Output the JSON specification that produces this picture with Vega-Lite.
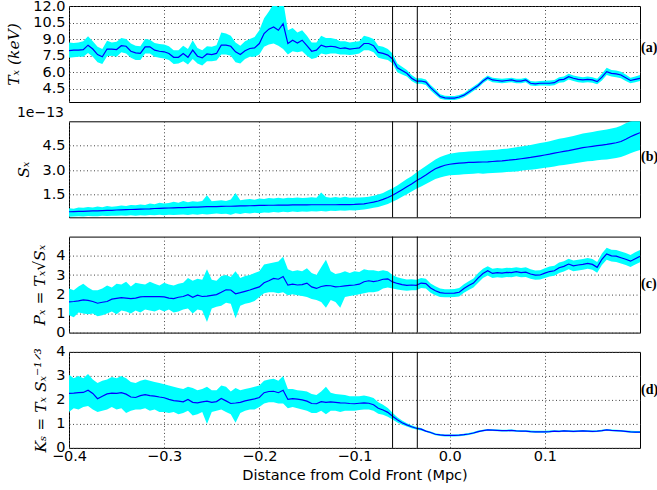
{
"$schema":"https://vega.github.io/schema/vega-lite/v6.json",
"padding":{"left":6,"top":-3,"right":0,"bottom":0},
"bounds":"flush",
"spacing":19.3,
"config":{
"view":{"stroke":"#000","strokeWidth":1},
"axis":{"domain":false,"ticks":false,"grid":true,"gridColor":"#444","gridDash":[1,2.5],"gridWidth":1,"labelFont":"DejaVu Sans","labelFontSize":14.5,"labelColor":"#000","labelPadding":4,"labelFlush":false,"labelOverlap":false,"labelBound":false,"tickCount":12,"titleFont":"DejaVu Serif","titleFontStyle":"italic","titleFontWeight":"normal","titleFontSize":15.5,"titleColor":"#000"},
"title":{"font":"DejaVu Sans","fontSize":14,"fontWeight":"normal","anchor":"start","offset":1,"color":"#000"}
},
"datasets":{"d":[
{"x":-0.4,"t":7.95,"tl":7.3,"th":8.7,"s":0.44,"sl":0.14,"sh":0.65,"p":1.6,"pl":0.9,"ph":2.3,"k":2.27,"kl":1.5,"kh":3.05},
{"x":-0.395,"t":8.0,"tl":7.35,"th":8.65,"s":0.45,"sl":0.15,"sh":0.62,"p":1.62,"pl":0.8,"ph":2.2,"k":2.28,"kl":1.65,"kh":2.9},
{"x":-0.39,"t":8.0,"tl":7.4,"th":8.7,"s":0.46,"sl":0.16,"sh":0.7,"p":1.65,"pl":1.05,"ph":2.4,"k":2.3,"kl":1.6,"kh":3.0},
{"x":-0.385,"t":8.05,"tl":7.4,"th":8.8,"s":0.47,"sl":0.15,"sh":0.68,"p":1.7,"pl":1.0,"ph":2.55,"k":2.31,"kl":1.7,"kh":2.9},
{"x":-0.38,"t":8.45,"tl":7.75,"th":9.25,"s":0.48,"sl":0.18,"sh":0.74,"p":1.68,"pl":0.95,"ph":2.35,"k":2.4,"kl":1.75,"kh":3.08},
{"x":-0.375,"t":8.1,"tl":7.4,"th":8.8,"s":0.49,"sl":0.16,"sh":0.7,"p":1.62,"pl":1.0,"ph":2.2,"k":2.27,"kl":1.6,"kh":2.85},
{"x":-0.37,"t":7.6,"tl":6.9,"th":8.3,"s":0.5,"sl":0.17,"sh":0.76,"p":1.53,"pl":0.85,"ph":2.2,"k":2.05,"kl":1.5,"kh":2.7},
{"x":-0.365,"t":7.4,"tl":6.75,"th":8.1,"s":0.51,"sl":0.2,"sh":0.72,"p":1.58,"pl":0.9,"ph":2.3,"k":2.15,"kl":1.55,"kh":2.8},
{"x":-0.36,"t":8.1,"tl":7.45,"th":8.85,"s":0.52,"sl":0.18,"sh":0.8,"p":1.62,"pl":1.0,"ph":2.45,"k":2.25,"kl":1.6,"kh":2.85},
{"x":-0.355,"t":8.1,"tl":7.5,"th":8.7,"s":0.53,"sl":0.2,"sh":0.75,"p":1.74,"pl":1.1,"ph":2.35,"k":2.28,"kl":1.7,"kh":2.95},
{"x":-0.35,"t":8.05,"tl":7.4,"th":8.75,"s":0.55,"sl":0.2,"sh":0.78,"p":1.78,"pl":0.95,"ph":2.55,"k":2.27,"kl":1.6,"kh":2.9},
{"x":-0.345,"t":8.4,"tl":7.8,"th":9.1,"s":0.56,"sl":0.21,"sh":0.82,"p":1.82,"pl":1.15,"ph":2.5,"k":2.3,"kl":1.65,"kh":3.0},
{"x":-0.34,"t":8.35,"tl":7.7,"th":9.0,"s":0.57,"sl":0.19,"sh":0.8,"p":1.8,"pl":1.1,"ph":2.65,"k":2.24,"kl":1.45,"kh":2.9},
{"x":-0.335,"t":7.9,"tl":7.3,"th":8.6,"s":0.58,"sl":0.22,"sh":0.85,"p":1.77,"pl":1.0,"ph":2.4,"k":2.12,"kl":1.55,"kh":2.75},
{"x":-0.33,"t":7.75,"tl":7.1,"th":8.4,"s":0.59,"sl":0.2,"sh":0.84,"p":1.8,"pl":1.15,"ph":2.6,"k":2.1,"kl":1.6,"kh":2.7},
{"x":-0.325,"t":7.7,"tl":7.1,"th":8.35,"s":0.6,"sl":0.23,"sh":0.88,"p":1.86,"pl":1.05,"ph":2.55,"k":2.18,"kl":1.6,"kh":2.8},
{"x":-0.32,"t":8.3,"tl":7.7,"th":9.0,"s":0.61,"sl":0.21,"sh":0.86,"p":1.88,"pl":1.2,"ph":2.5,"k":2.22,"kl":1.65,"kh":2.85},
{"x":-0.315,"t":8.3,"tl":7.7,"th":8.95,"s":0.62,"sl":0.24,"sh":0.95,"p":1.87,"pl":1.15,"ph":2.65,"k":2.18,"kl":1.55,"kh":2.8},
{"x":-0.31,"t":8.0,"tl":7.4,"th":8.65,"s":0.64,"sl":0.22,"sh":0.9,"p":1.88,"pl":1.1,"ph":2.55,"k":2.16,"kl":1.6,"kh":2.75},
{"x":-0.305,"t":7.9,"tl":7.3,"th":8.55,"s":0.65,"sl":0.25,"sh":1.0,"p":1.87,"pl":1.2,"ph":2.45,"k":2.12,"kl":1.5,"kh":2.7},
{"x":-0.3,"t":7.85,"tl":7.25,"th":8.5,"s":0.66,"sl":0.22,"sh":0.95,"p":1.86,"pl":1.1,"ph":2.6,"k":2.09,"kl":1.5,"kh":2.65},
{"x":-0.295,"t":7.7,"tl":7.1,"th":8.35,"s":0.67,"sl":0.26,"sh":0.98,"p":1.8,"pl":1.2,"ph":2.5,"k":2.02,"kl":1.45,"kh":2.6},
{"x":-0.29,"t":7.35,"tl":6.75,"th":8.0,"s":0.68,"sl":0.24,"sh":1.05,"p":1.77,"pl":1.05,"ph":2.45,"k":1.97,"kl":1.5,"kh":2.55},
{"x":-0.285,"t":7.35,"tl":6.8,"th":8.0,"s":0.69,"sl":0.25,"sh":1.0,"p":1.84,"pl":1.1,"ph":2.55,"k":1.95,"kl":1.4,"kh":2.5},
{"x":-0.28,"t":7.7,"tl":7.0,"th":8.4,"s":0.7,"sl":0.27,"sh":1.1,"p":1.88,"pl":1.2,"ph":2.6,"k":1.92,"kl":1.45,"kh":2.45},
{"x":-0.275,"t":7.35,"tl":6.7,"th":8.1,"s":0.71,"sl":0.24,"sh":1.02,"p":1.97,"pl":1.25,"ph":2.85,"k":2.02,"kl":1.55,"kh":2.55},
{"x":-0.27,"t":8.0,"tl":7.2,"th":8.9,"s":0.72,"sl":0.28,"sh":1.08,"p":1.84,"pl":1.0,"ph":2.7,"k":1.9,"kl":1.35,"kh":2.5},
{"x":-0.265,"t":7.45,"tl":6.8,"th":8.2,"s":0.73,"sl":0.25,"sh":1.05,"p":1.95,"pl":1.2,"ph":2.8,"k":1.88,"kl":1.4,"kh":2.4},
{"x":-0.26,"t":7.3,"tl":6.6,"th":8.0,"s":0.74,"sl":0.3,"sh":1.1,"p":1.88,"pl":1.15,"ph":2.75,"k":1.92,"kl":1.5,"kh":2.45},
{"x":-0.255,"t":7.65,"tl":7.0,"th":8.35,"s":0.75,"sl":0.27,"sh":1.45,"p":1.9,"pl":0.55,"ph":3.3,"k":1.95,"kl":1.0,"kh":2.55},
{"x":-0.25,"t":7.6,"tl":7.0,"th":8.3,"s":0.75,"sl":0.3,"sh":1.08,"p":1.94,"pl":1.25,"ph":2.75,"k":1.9,"kl":1.5,"kh":2.4},
{"x":-0.245,"t":7.7,"tl":7.05,"th":8.45,"s":0.76,"sl":0.33,"sh":1.12,"p":1.98,"pl":1.35,"ph":2.7,"k":1.93,"kl":1.55,"kh":2.4},
{"x":-0.24,"t":8.45,"tl":7.6,"th":9.6,"s":0.77,"sl":0.3,"sh":1.15,"p":2.1,"pl":1.4,"ph":2.95,"k":2.06,"kl":1.6,"kh":2.6},
{"x":-0.235,"t":8.45,"tl":7.6,"th":9.5,"s":0.78,"sl":0.32,"sh":1.1,"p":2.23,"pl":1.55,"ph":3.0,"k":1.96,"kl":1.5,"kh":2.55},
{"x":-0.23,"t":8.35,"tl":7.5,"th":9.3,"s":0.78,"sl":0.26,"sh":1.2,"p":2.22,"pl":1.5,"ph":2.9,"k":1.85,"kl":1.4,"kh":2.35},
{"x":-0.225,"t":7.85,"tl":6.9,"th":8.7,"s":0.79,"sl":0.35,"sh":1.6,"p":2.02,"pl":0.75,"ph":3.2,"k":1.87,"kl":1.05,"kh":2.5},
{"x":-0.22,"t":7.6,"tl":6.8,"th":8.4,"s":0.8,"sl":0.3,"sh":1.15,"p":2.08,"pl":1.4,"ph":2.85,"k":1.9,"kl":1.45,"kh":2.4},
{"x":-0.215,"t":7.95,"tl":7.2,"th":8.8,"s":0.8,"sl":0.36,"sh":1.2,"p":2.15,"pl":1.5,"ph":2.95,"k":1.96,"kl":1.55,"kh":2.45},
{"x":-0.21,"t":8.15,"tl":7.4,"th":9.0,"s":0.81,"sl":0.33,"sh":1.22,"p":2.22,"pl":1.55,"ph":3.0,"k":2.0,"kl":1.6,"kh":2.5},
{"x":-0.205,"t":8.2,"tl":7.4,"th":9.2,"s":0.82,"sl":0.38,"sh":1.18,"p":2.3,"pl":1.65,"ph":3.1,"k":2.04,"kl":1.6,"kh":2.55},
{"x":-0.2,"t":8.6,"tl":7.6,"th":9.8,"s":0.83,"sl":0.35,"sh":1.25,"p":2.38,"pl":1.85,"ph":3.2,"k":2.1,"kl":1.7,"kh":2.6},
{"x":-0.195,"t":9.5,"tl":8.3,"th":10.9,"s":0.83,"sl":0.4,"sh":1.22,"p":2.6,"pl":2.05,"ph":3.55,"k":2.3,"kl":1.85,"kh":2.8},
{"x":-0.19,"t":9.9,"tl":8.5,"th":11.5,"s":0.84,"sl":0.38,"sh":1.28,"p":2.7,"pl":2.1,"ph":3.6,"k":2.35,"kl":1.9,"kh":2.85},
{"x":-0.185,"t":10.1,"tl":8.6,"th":12.2,"s":0.84,"sl":0.42,"sh":1.25,"p":2.82,"pl":2.1,"ph":3.65,"k":2.36,"kl":1.9,"kh":2.88},
{"x":-0.18,"t":9.8,"tl":8.4,"th":11.9,"s":0.85,"sl":0.4,"sh":1.3,"p":2.78,"pl":2.05,"ph":3.7,"k":2.3,"kl":1.85,"kh":2.8},
{"x":-0.175,"t":10.4,"tl":8.1,"th":12.5,"s":0.85,"sl":0.44,"sh":1.26,"p":2.92,"pl":2.1,"ph":3.95,"k":2.4,"kl":1.85,"kh":3.0},
{"x":-0.17,"t":8.6,"tl":7.6,"th":9.8,"s":0.85,"sl":0.41,"sh":1.3,"p":2.47,"pl":1.95,"ph":3.3,"k":2.02,"kl":1.65,"kh":2.45},
{"x":-0.165,"t":8.9,"tl":7.9,"th":10.0,"s":0.86,"sl":0.45,"sh":1.28,"p":2.52,"pl":2.0,"ph":3.2,"k":2.05,"kl":1.7,"kh":2.45},
{"x":-0.16,"t":8.65,"tl":7.8,"th":9.6,"s":0.86,"sl":0.42,"sh":1.32,"p":2.48,"pl":1.95,"ph":3.25,"k":2.03,"kl":1.65,"kh":2.4},
{"x":-0.155,"t":8.9,"tl":7.9,"th":9.8,"s":0.86,"sl":0.46,"sh":1.29,"p":2.5,"pl":1.9,"ph":3.2,"k":2.0,"kl":1.6,"kh":2.38},
{"x":-0.15,"t":8.4,"tl":7.5,"th":9.3,"s":0.86,"sl":0.44,"sh":1.3,"p":2.58,"pl":1.85,"ph":3.35,"k":1.95,"kl":1.55,"kh":2.35},
{"x":-0.145,"t":7.9,"tl":7.2,"th":8.7,"s":0.87,"sl":0.47,"sh":1.33,"p":2.38,"pl":1.75,"ph":3.1,"k":1.85,"kl":1.45,"kh":2.25},
{"x":-0.14,"t":8.0,"tl":7.3,"th":8.7,"s":0.87,"sl":0.45,"sh":1.3,"p":2.3,"pl":1.7,"ph":3.0,"k":1.84,"kl":1.45,"kh":2.2},
{"x":-0.135,"t":8.45,"tl":7.7,"th":9.3,"s":0.87,"sl":0.48,"sh":1.62,"p":2.4,"pl":1.6,"ph":3.4,"k":1.93,"kl":1.55,"kh":2.35},
{"x":-0.13,"t":8.3,"tl":7.6,"th":9.1,"s":0.87,"sl":0.46,"sh":1.34,"p":2.45,"pl":1.3,"ph":3.8,"k":1.9,"kl":1.4,"kh":2.55},
{"x":-0.125,"t":8.35,"tl":7.7,"th":9.1,"s":0.87,"sl":0.5,"sh":1.3,"p":2.44,"pl":1.7,"ph":3.2,"k":1.92,"kl":1.55,"kh":2.3},
{"x":-0.12,"t":8.3,"tl":7.7,"th":9.0,"s":0.87,"sl":0.48,"sh":1.35,"p":2.38,"pl":1.6,"ph":3.05,"k":1.9,"kl":1.55,"kh":2.25},
{"x":-0.115,"t":8.15,"tl":7.6,"th":8.8,"s":0.88,"sl":0.52,"sh":1.3,"p":2.4,"pl":1.3,"ph":3.1,"k":1.88,"kl":1.5,"kh":2.22},
{"x":-0.11,"t":8.2,"tl":7.6,"th":8.8,"s":0.88,"sl":0.5,"sh":1.36,"p":2.43,"pl":1.85,"ph":3.2,"k":1.87,"kl":1.55,"kh":2.2},
{"x":-0.105,"t":8.1,"tl":7.55,"th":8.7,"s":0.88,"sl":0.53,"sh":1.3,"p":2.46,"pl":1.9,"ph":3.1,"k":1.85,"kl":1.55,"kh":2.15},
{"x":-0.1,"t":8.15,"tl":7.6,"th":8.75,"s":0.89,"sl":0.52,"sh":1.32,"p":2.48,"pl":1.95,"ph":3.2,"k":1.84,"kl":1.55,"kh":2.15},
{"x":-0.095,"t":8.2,"tl":7.7,"th":8.8,"s":0.91,"sl":0.55,"sh":1.32,"p":2.52,"pl":2.0,"ph":3.15,"k":1.86,"kl":1.58,"kh":2.15},
{"x":-0.09,"t":8.6,"tl":8.0,"th":9.3,"s":0.93,"sl":0.58,"sh":1.33,"p":2.65,"pl":2.05,"ph":3.3,"k":1.88,"kl":1.6,"kh":2.18},
{"x":-0.085,"t":8.6,"tl":8.0,"th":9.2,"s":0.98,"sl":0.62,"sh":1.36,"p":2.7,"pl":2.1,"ph":3.25,"k":1.86,"kl":1.6,"kh":2.14},
{"x":-0.08,"t":8.4,"tl":7.8,"th":9.0,"s":1.03,"sl":0.68,"sh":1.42,"p":2.66,"pl":2.1,"ph":3.25,"k":1.8,"kl":1.55,"kh":2.08},
{"x":-0.075,"t":7.8,"tl":7.3,"th":8.4,"s":1.1,"sl":0.73,"sh":1.5,"p":2.7,"pl":2.15,"ph":3.2,"k":1.65,"kl":1.42,"kh":1.9},
{"x":-0.07,"t":7.7,"tl":7.2,"th":8.3,"s":1.2,"sl":0.82,"sh":1.6,"p":2.78,"pl":2.3,"ph":3.25,"k":1.58,"kl":1.38,"kh":1.8},
{"x":-0.065,"t":7.55,"tl":7.1,"th":8.1,"s":1.32,"sl":0.92,"sh":1.75,"p":2.8,"pl":2.35,"ph":3.2,"k":1.48,"kl":1.3,"kh":1.66},
{"x":-0.06,"t":7.2,"tl":6.8,"th":7.7,"s":1.45,"sl":1.05,"sh":1.88,"p":2.64,"pl":2.3,"ph":3.0,"k":1.32,"kl":1.18,"kh":1.46},
{"x":-0.055,"t":6.4,"tl":6.0,"th":6.8,"s":1.62,"sl":1.2,"sh":2.05,"p":2.56,"pl":2.25,"ph":2.88,"k":1.17,"kl":1.06,"kh":1.28},
{"x":-0.05,"t":6.15,"tl":5.8,"th":6.5,"s":1.8,"sl":1.36,"sh":2.25,"p":2.5,"pl":2.2,"ph":2.82,"k":1.05,"kl":0.96,"kh":1.14},
{"x":-0.045,"t":5.9,"tl":5.6,"th":6.2,"s":1.98,"sl":1.52,"sh":2.45,"p":2.46,"pl":2.18,"ph":2.76,"k":0.96,"kl":0.89,"kh":1.03},
{"x":-0.04,"t":5.45,"tl":5.2,"th":5.75,"s":2.15,"sl":1.68,"sh":2.62,"p":2.48,"pl":2.2,"ph":2.78,"k":0.88,"kl":0.82,"kh":0.94},
{"x":-0.035,"t":5.2,"tl":4.95,"th":5.45,"s":2.35,"sl":1.85,"sh":2.85,"p":2.46,"pl":2.2,"ph":2.75,"k":0.82,"kl":0.77,"kh":0.87},
{"x":-0.03,"t":5.2,"tl":4.95,"th":5.45,"s":2.52,"sl":2.0,"sh":3.05,"p":2.58,"pl":2.32,"ph":2.85,"k":0.78,"kl":0.73,"kh":0.83},
{"x":-0.025,"t":5.1,"tl":4.85,"th":5.35,"s":2.7,"sl":2.15,"sh":3.25,"p":2.55,"pl":2.3,"ph":2.8,"k":0.7,"kl":0.66,"kh":0.74},
{"x":-0.02,"t":4.6,"tl":4.35,"th":4.85,"s":2.9,"sl":2.3,"sh":3.45,"p":2.32,"pl":2.08,"ph":2.56,"k":0.64,"kl":0.6,"kh":0.68},
{"x":-0.015,"t":4.2,"tl":3.95,"th":4.45,"s":3.08,"sl":2.45,"sh":3.65,"p":2.18,"pl":1.95,"ph":2.42,"k":0.57,"kl":0.53,"kh":0.61},
{"x":-0.01,"t":3.8,"tl":3.6,"th":4.0,"s":3.2,"sl":2.55,"sh":3.8,"p":2.08,"pl":1.86,"ph":2.3,"k":0.54,"kl":0.5,"kh":0.58},
{"x":-0.005,"t":3.68,"tl":3.5,"th":3.86,"s":3.3,"sl":2.62,"sh":3.92,"p":2.05,"pl":1.84,"ph":2.26,"k":0.52,"kl":0.48,"kh":0.56},
{"x":0.0,"t":3.66,"tl":3.48,"th":3.84,"s":3.36,"sl":2.68,"sh":4.0,"p":2.05,"pl":1.84,"ph":2.26,"k":0.52,"kl":0.48,"kh":0.56},
{"x":0.005,"t":3.66,"tl":3.48,"th":3.84,"s":3.4,"sl":2.7,"sh":4.05,"p":2.06,"pl":1.85,"ph":2.27,"k":0.52,"kl":0.48,"kh":0.56},
{"x":0.01,"t":3.75,"tl":3.57,"th":3.93,"s":3.43,"sl":2.72,"sh":4.1,"p":2.1,"pl":1.88,"ph":2.32,"k":0.53,"kl":0.49,"kh":0.57},
{"x":0.015,"t":3.92,"tl":3.74,"th":4.1,"s":3.45,"sl":2.75,"sh":4.12,"p":2.3,"pl":2.08,"ph":2.52,"k":0.55,"kl":0.51,"kh":0.59},
{"x":0.02,"t":4.2,"tl":4.0,"th":4.4,"s":3.47,"sl":2.76,"sh":4.15,"p":2.45,"pl":2.22,"ph":2.68,"k":0.58,"kl":0.54,"kh":0.62},
{"x":0.025,"t":4.5,"tl":4.3,"th":4.7,"s":3.48,"sl":2.78,"sh":4.16,"p":2.58,"pl":2.35,"ph":2.82,"k":0.62,"kl":0.58,"kh":0.66},
{"x":0.03,"t":4.8,"tl":4.6,"th":5.0,"s":3.49,"sl":2.8,"sh":4.18,"p":2.85,"pl":2.6,"ph":3.1,"k":0.68,"kl":0.64,"kh":0.72},
{"x":0.035,"t":5.2,"tl":5.0,"th":5.4,"s":3.5,"sl":2.78,"sh":4.2,"p":3.08,"pl":2.84,"ph":3.32,"k":0.72,"kl":0.68,"kh":0.76},
{"x":0.04,"t":5.5,"tl":5.3,"th":5.7,"s":3.51,"sl":2.8,"sh":4.22,"p":3.22,"pl":2.98,"ph":3.46,"k":0.75,"kl":0.71,"kh":0.79},
{"x":0.045,"t":5.3,"tl":5.1,"th":5.5,"s":3.53,"sl":2.82,"sh":4.24,"p":3.08,"pl":2.84,"ph":3.32,"k":0.74,"kl":0.7,"kh":0.78},
{"x":0.05,"t":5.25,"tl":5.05,"th":5.45,"s":3.55,"sl":2.84,"sh":4.25,"p":3.12,"pl":2.88,"ph":3.36,"k":0.73,"kl":0.69,"kh":0.77},
{"x":0.055,"t":5.2,"tl":5.0,"th":5.4,"s":3.57,"sl":2.86,"sh":4.3,"p":3.1,"pl":2.86,"ph":3.34,"k":0.72,"kl":0.68,"kh":0.76},
{"x":0.06,"t":5.25,"tl":5.05,"th":5.45,"s":3.6,"sl":2.88,"sh":4.32,"p":3.14,"pl":2.9,"ph":3.38,"k":0.72,"kl":0.68,"kh":0.76},
{"x":0.065,"t":5.3,"tl":5.1,"th":5.5,"s":3.63,"sl":2.9,"sh":4.36,"p":3.12,"pl":2.88,"ph":3.36,"k":0.73,"kl":0.69,"kh":0.77},
{"x":0.07,"t":5.2,"tl":5.0,"th":5.4,"s":3.66,"sl":2.92,"sh":4.4,"p":3.17,"pl":2.93,"ph":3.41,"k":0.71,"kl":0.67,"kh":0.75},
{"x":0.075,"t":5.2,"tl":5.0,"th":5.4,"s":3.7,"sl":2.96,"sh":4.45,"p":3.12,"pl":2.88,"ph":3.36,"k":0.7,"kl":0.66,"kh":0.74},
{"x":0.08,"t":5.3,"tl":5.1,"th":5.5,"s":3.74,"sl":3.0,"sh":4.5,"p":3.15,"pl":2.9,"ph":3.4,"k":0.7,"kl":0.66,"kh":0.74},
{"x":0.085,"t":5.0,"tl":4.8,"th":5.2,"s":3.78,"sl":3.02,"sh":4.55,"p":3.05,"pl":2.8,"ph":3.3,"k":0.68,"kl":0.64,"kh":0.72},
{"x":0.09,"t":4.95,"tl":4.75,"th":5.15,"s":3.83,"sl":3.06,"sh":4.6,"p":2.99,"pl":2.75,"ph":3.24,"k":0.67,"kl":0.63,"kh":0.71},
{"x":0.095,"t":5.0,"tl":4.8,"th":5.2,"s":3.88,"sl":3.1,"sh":4.66,"p":3.0,"pl":2.76,"ph":3.25,"k":0.67,"kl":0.63,"kh":0.71},
{"x":0.1,"t":5.0,"tl":4.8,"th":5.22,"s":3.93,"sl":3.14,"sh":4.72,"p":3.1,"pl":2.85,"ph":3.35,"k":0.67,"kl":0.63,"kh":0.71},
{"x":0.105,"t":5.0,"tl":4.78,"th":5.25,"s":3.98,"sl":3.18,"sh":4.78,"p":3.18,"pl":2.92,"ph":3.44,"k":0.68,"kl":0.64,"kh":0.72},
{"x":0.11,"t":5.05,"tl":4.82,"th":5.3,"s":4.04,"sl":3.22,"sh":4.85,"p":3.22,"pl":2.96,"ph":3.48,"k":0.7,"kl":0.66,"kh":0.74},
{"x":0.115,"t":5.3,"tl":5.05,"th":5.55,"s":4.1,"sl":3.28,"sh":4.92,"p":3.38,"pl":3.1,"ph":3.65,"k":0.69,"kl":0.65,"kh":0.73},
{"x":0.12,"t":5.35,"tl":5.1,"th":5.6,"s":4.15,"sl":3.32,"sh":4.98,"p":3.45,"pl":3.18,"ph":3.72,"k":0.71,"kl":0.67,"kh":0.75},
{"x":0.125,"t":5.6,"tl":5.35,"th":5.85,"s":4.2,"sl":3.36,"sh":5.04,"p":3.57,"pl":3.3,"ph":3.84,"k":0.7,"kl":0.66,"kh":0.74},
{"x":0.13,"t":5.45,"tl":5.2,"th":5.7,"s":4.26,"sl":3.4,"sh":5.1,"p":3.48,"pl":3.2,"ph":3.76,"k":0.69,"kl":0.65,"kh":0.73},
{"x":0.135,"t":5.35,"tl":5.1,"th":5.6,"s":4.32,"sl":3.45,"sh":5.18,"p":3.52,"pl":3.24,"ph":3.8,"k":0.7,"kl":0.66,"kh":0.74},
{"x":0.14,"t":5.3,"tl":5.05,"th":5.55,"s":4.38,"sl":3.5,"sh":5.25,"p":3.55,"pl":3.27,"ph":3.83,"k":0.71,"kl":0.67,"kh":0.75},
{"x":0.145,"t":5.35,"tl":5.1,"th":5.6,"s":4.42,"sl":3.54,"sh":5.3,"p":3.6,"pl":3.32,"ph":3.88,"k":0.7,"kl":0.66,"kh":0.74},
{"x":0.15,"t":5.3,"tl":5.05,"th":5.55,"s":4.46,"sl":3.56,"sh":5.35,"p":3.55,"pl":3.27,"ph":3.83,"k":0.69,"kl":0.65,"kh":0.73},
{"x":0.155,"t":5.15,"tl":4.9,"th":5.4,"s":4.5,"sl":3.6,"sh":5.4,"p":3.4,"pl":3.12,"ph":3.68,"k":0.7,"kl":0.66,"kh":0.74},
{"x":0.16,"t":5.55,"tl":5.25,"th":5.85,"s":4.54,"sl":3.63,"sh":5.45,"p":3.82,"pl":3.52,"ph":4.12,"k":0.72,"kl":0.68,"kh":0.76},
{"x":0.165,"t":6.05,"tl":5.75,"th":6.4,"s":4.58,"sl":3.66,"sh":5.5,"p":4.1,"pl":3.8,"ph":4.42,"k":0.75,"kl":0.71,"kh":0.79},
{"x":0.17,"t":5.9,"tl":5.6,"th":6.2,"s":4.63,"sl":3.7,"sh":5.55,"p":4.0,"pl":3.7,"ph":4.32,"k":0.73,"kl":0.69,"kh":0.77},
{"x":0.175,"t":5.85,"tl":5.55,"th":6.15,"s":4.68,"sl":3.74,"sh":5.62,"p":3.98,"pl":3.68,"ph":4.3,"k":0.72,"kl":0.68,"kh":0.76},
{"x":0.18,"t":5.75,"tl":5.45,"th":6.05,"s":4.76,"sl":3.8,"sh":5.72,"p":3.9,"pl":3.6,"ph":4.22,"k":0.71,"kl":0.67,"kh":0.75},
{"x":0.185,"t":5.5,"tl":5.2,"th":5.8,"s":4.9,"sl":3.92,"sh":5.88,"p":3.82,"pl":3.52,"ph":4.14,"k":0.69,"kl":0.65,"kh":0.73},
{"x":0.19,"t":5.25,"tl":5.0,"th":5.5,"s":5.05,"sl":4.04,"sh":6.0,"p":3.72,"pl":3.42,"ph":4.04,"k":0.67,"kl":0.63,"kh":0.71},
{"x":0.195,"t":5.35,"tl":5.1,"th":5.6,"s":5.18,"sl":4.14,"sh":6.05,"p":3.85,"pl":3.55,"ph":4.18,"k":0.66,"kl":0.62,"kh":0.7},
{"x":0.2,"t":5.45,"tl":5.2,"th":5.75,"s":5.3,"sl":4.24,"sh":6.1,"p":3.97,"pl":3.66,"ph":4.3,"k":0.66,"kl":0.62,"kh":0.7}
]},
"vconcat":[
{"width":571,"height":96,"data":{"name":"d"},
"layer":[
{"mark":{"type":"area","color":"#00ffff","clip":true},"encoding":{
"x":{"field":"x","type":"quantitative","scale":{"domain":[-0.4,0.2],"nice":false,"zero":false},"axis":{"values":[-0.4,-0.3,-0.2,-0.1,0,0.1],"labels":false,"title":null,"tickCount":12}},
"y":{"field":"tl","type":"quantitative","scale":{"domain":[3.3,12],"nice":false,"zero":false},"axis":{"values":[4.5,6,7.5,9,10.5,12],"format":".1f","title":"Tₓ (keV)","titlePadding":11,"tickCount":12,"labelOverlap":false}},
"y2":{"field":"th"}}},
{"mark":{"type":"line","color":"#0000ff","strokeWidth":1.2,"clip":true},"encoding":{"x":{"field":"x","type":"quantitative"},"y":{"field":"t","type":"quantitative"}}},
{"data":{"values":[{"v":-0.06},{"v":-0.034}]},"mark":{"type":"rule","color":"#000","strokeWidth":1},"encoding":{"x":{"field":"v","type":"quantitative"}}},
{"data":{"values":[{"x":0.2,"y":8.23,"lab":"(a)"}]},"mark":{"type":"text","align":"left","baseline":"middle","dx":1,"font":"Liberation Serif","fontWeight":"bold","fontSize":14,"color":"#000"},"encoding":{"x":{"field":"x","type":"quantitative"},"y":{"field":"y","type":"quantitative"},"text":{"field":"lab"}}}
]},
{"width":571,"height":96,"data":{"name":"d"},"title":{"text":"1e−13"},
"layer":[
{"mark":{"type":"area","color":"#00ffff","clip":true},"encoding":{
"x":{"field":"x","type":"quantitative","scale":{"domain":[-0.4,0.2],"nice":false,"zero":false},"axis":{"values":[-0.4,-0.3,-0.2,-0.1,0,0.1],"labels":false,"title":null,"tickCount":12}},
"y":{"field":"sl","type":"quantitative","scale":{"domain":[0.1,6],"nice":false,"zero":false},"axis":{"values":[1.5,3,4.5],"format":".1f","title":"Sₓ","titlePadding":10,"tickCount":12,"labelOverlap":false}},
"y2":{"field":"sh"}}},
{"mark":{"type":"line","color":"#0000ff","strokeWidth":1.2,"clip":true},"encoding":{"x":{"field":"x","type":"quantitative"},"y":{"field":"s","type":"quantitative"}}},
{"data":{"values":[{"v":-0.06},{"v":-0.034}]},"mark":{"type":"rule","color":"#000","strokeWidth":1},"encoding":{"x":{"field":"v","type":"quantitative"}}},
{"data":{"values":[{"x":0.2,"y":3.81,"lab":"(b)"}]},"mark":{"type":"text","align":"left","baseline":"middle","dx":1,"font":"Liberation Serif","fontWeight":"bold","fontSize":14,"color":"#000"},"encoding":{"x":{"field":"x","type":"quantitative"},"y":{"field":"y","type":"quantitative"},"text":{"field":"lab"}}}
]},
{"width":571,"height":96,"data":{"name":"d"},
"layer":[
{"mark":{"type":"area","color":"#00ffff","clip":true},"encoding":{
"x":{"field":"x","type":"quantitative","scale":{"domain":[-0.4,0.2],"nice":false,"zero":false},"axis":{"values":[-0.4,-0.3,-0.2,-0.1,0,0.1],"labels":false,"title":null,"tickCount":12}},
"y":{"field":"pl","type":"quantitative","scale":{"domain":[0,5],"nice":false,"zero":false},"axis":{"values":[0,1,2,3,4],"format":"d","title":"Pₓ = Tₓ√Sₓ","titlePadding":8,"tickCount":12,"labelOverlap":false}},
"y2":{"field":"ph"}}},
{"mark":{"type":"line","color":"#0000ff","strokeWidth":1.2,"clip":true},"encoding":{"x":{"field":"x","type":"quantitative"},"y":{"field":"p","type":"quantitative"}}},
{"data":{"values":[{"v":-0.06},{"v":-0.034}]},"mark":{"type":"rule","color":"#000","strokeWidth":1},"encoding":{"x":{"field":"v","type":"quantitative"}}},
{"data":{"values":[{"x":0.2,"y":2.54,"lab":"(c)"}]},"mark":{"type":"text","align":"left","baseline":"middle","dx":1,"font":"Liberation Serif","fontWeight":"bold","fontSize":14,"color":"#000"},"encoding":{"x":{"field":"x","type":"quantitative"},"y":{"field":"y","type":"quantitative"},"text":{"field":"lab"}}}
]},
{"width":571,"height":96,"data":{"name":"d"},
"layer":[
{"mark":{"type":"area","color":"#00ffff","clip":true},"encoding":{
"x":{"field":"x","type":"quantitative","scale":{"domain":[-0.4,0.2],"nice":false,"zero":false},"axis":{"values":[-0.4,-0.3,-0.2,-0.1,0,0.1],"format":".1f","title":"Distance from Cold Front (Mpc)","titleFont":"DejaVu Sans","titleFontStyle":"normal","titleFontSize":14.5,"labelPadding":2,"titlePadding":5,"tickCount":12,"labelOverlap":false}},
"y":{"field":"kl","type":"quantitative","scale":{"domain":[0,4],"nice":false,"zero":false},"axis":{"values":[0,1,2,3,4],"format":"d","title":"Kₛ = Tₓ Sₓ⁻¹ᐟ³","titlePadding":7,"tickCount":12,"labelOverlap":false}},
"y2":{"field":"kh"}}},
{"mark":{"type":"line","color":"#0000ff","strokeWidth":1.2,"clip":true},"encoding":{"x":{"field":"x","type":"quantitative"},"y":{"field":"k","type":"quantitative"}}},
{"data":{"values":[{"v":-0.06},{"v":-0.034}]},"mark":{"type":"rule","color":"#000","strokeWidth":1},"encoding":{"x":{"field":"v","type":"quantitative"}}},
{"data":{"values":[{"x":0.2,"y":2.42,"lab":"(d)"}]},"mark":{"type":"text","align":"left","baseline":"middle","dx":1,"font":"Liberation Serif","fontWeight":"bold","fontSize":14,"color":"#000"},"encoding":{"x":{"field":"x","type":"quantitative"},"y":{"field":"y","type":"quantitative"},"text":{"field":"lab"}}}
]}
]
}
